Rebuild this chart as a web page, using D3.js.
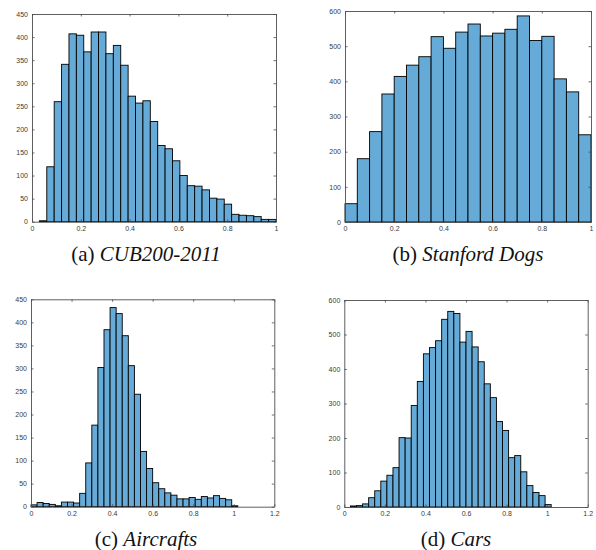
<!DOCTYPE html>
<html>
<head>
<meta charset="utf-8">
<script src="https://cdn.jsdelivr.net/npm/d3@7"></script>
<style>
  body { margin: 0; background: #fff; }
  svg { display: block; }
  .tick text { font-family: "Liberation Sans", Arial, sans-serif; font-size: 7px; fill: #3a3a3a; }
  .caption { font-family: "Liberation Serif", "Times New Roman", serif; font-size: 21px; fill: #111; }
</style>
</head>
<body>
<div id="chart"></div>
<script>
// histogram counts, one value per bin, bins start at 0
var cubBinWidth = 1 / 33
var cubCounts = [0, 2, 119, 260, 341, 407, 404, 368, 411, 411, 364, 382, 339, 272, 257, 262,
  217, 165, 158, 132, 100, 78, 77, 69, 51, 49, 38, 16, 14, 13, 11, 5, 5]

var dogsBinWidth = 0.05
var dogsCounts = [52, 180, 257, 364, 414, 446, 470, 527, 494, 540, 563, 529, 537, 548, 586,
  516, 528, 407, 370, 248]

var aircraftBinWidth = 0.03
var aircraftCounts = [4, 9, 7, 5, 2, 10, 10, 8, 29, 95, 177, 302, 384, 432, 419, 371, 306, 244,
  120, 83, 52, 39, 30, 25, 17, 17, 20, 16, 22, 19, 24, 18, 15, 2]

var carsBinWidth = 0.03
var carsCounts = [0, 3, 4, 9, 27, 47, 75, 92, 114, 201, 200, 294, 364, 444, 462, 482, 544, 567,
  561, 478, 509, 464, 421, 357, 317, 248, 222, 143, 149, 102, 62, 42, 33, 7]

var xTicks01 = [0, 0.2, 0.4, 0.6, 0.8, 1]
var xTicks12 = [0, 0.2, 0.4, 0.6, 0.8, 1, 1.2]
var yTicks450 = d3.range(0, 451, 50)
var yTicks600 = d3.range(0, 601, 100)

var captions = [
  { tag: "(a) ", name: "CUB200-2011" },
  { tag: "(b) ", name: "Stanford Dogs" },
  { tag: "(c) ", name: "Aircrafts" },
  { tag: "(d) ", name: "Cars" }
]

var totalWidth = 596
var totalHeight = 550

var svg = d3.select('#chart').append('svg')
  .attr('width', totalWidth)
  .attr('height', totalHeight)

// panel frames (pixel boxes of each axes)
var panels = [
  { counts: cubCounts, bw: cubBinWidth, xMax: 1, yMax: 450, xTicks: xTicks01, yTicks: yTicks450,
    box: [32, 14, 276, 221.7], cap: captions[0], capX: 146, capY: 261 },
  { counts: dogsCounts, bw: dogsBinWidth, xMax: 1, yMax: 600, xTicks: xTicks01, yTicks: yTicks600,
    box: [345, 11, 591, 222], cap: captions[1], capX: 468, capY: 261 },
  { counts: aircraftCounts, bw: aircraftBinWidth, xMax: 1.2, yMax: 450, xTicks: xTicks12, yTicks: yTicks450,
    box: [31, 299.3, 274.3, 506.7], cap: captions[2], capX: 146, capY: 546 },
  { counts: carsCounts, bw: carsBinWidth, xMax: 1.2, yMax: 600, xTicks: xTicks12, yTicks: yTicks600,
    box: [344.3, 300, 587.7, 507], cap: captions[3], capX: 456, capY: 546 }
]

panels.forEach(drawPanel)

function drawPanel(p) {
  var x0 = p.box[0], y0 = p.box[1], x1 = p.box[2], y1 = p.box[3]
  var w = x1 - x0, h = y1 - y0

  var g = svg.append('g').attr('transform', 'translate(' + x0 + ',' + y0 + ')')

  var xScale = d3.scaleLinear().domain([0, p.xMax]).range([0, w])
  var yScale = d3.scaleLinear().domain([0, p.yMax]).range([h, 0])

  var bins = p.counts.map(function(c, i) {
    return { x0: i * p.bw, x1: Math.min((i + 1) * p.bw, p.xMax), count: c }
  })

  g.selectAll('rect.bar').data(bins).enter().append('rect')
    .attr('class', 'bar')
    .attr('x', function(d) { return xScale(d.x0) })
    .attr('width', function(d) { return xScale(d.x1) - xScale(d.x0) })
    .attr('y', function(d) { return yScale(d.count) })
    .attr('height', function(d) { return h - yScale(d.count) })
    .attr('fill', '#66aad7')
    .attr('stroke', '#000')
    .attr('stroke-width', 0.9)

  // box axes, ticks inward on all four sides
  var tickLen = 2.5
  var bottom = d3.axisBottom(xScale).tickValues(p.xTicks).tickSizeInner(-tickLen).tickSizeOuter(0)
    .tickPadding(4).tickFormat(d3.format('~g'))
  var top = d3.axisTop(xScale).tickValues(p.xTicks).tickSizeInner(-tickLen).tickSizeOuter(0)
    .tickFormat('')
  var left = d3.axisLeft(yScale).tickValues(p.yTicks).tickSizeInner(-tickLen).tickSizeOuter(0)
    .tickPadding(4)
  var right = d3.axisRight(yScale).tickValues(p.yTicks).tickSizeInner(-tickLen).tickSizeOuter(0)
    .tickFormat('')

  var axes = [
    g.append('g').attr('transform', 'translate(0,' + h + ')').call(bottom),
    g.append('g').call(top),
    g.append('g').call(left),
    g.append('g').attr('transform', 'translate(' + w + ',0)').call(right)
  ]
  axes.forEach(function(a) {
    a.selectAll('.domain').attr('stroke', '#4d4d4d').attr('stroke-width', 0.9)
    a.selectAll('.tick line').attr('stroke', '#4d4d4d').attr('stroke-width', 0.8)
  })

  var cap = svg.append('text')
    .attr('class', 'caption')
    .attr('x', p.capX)
    .attr('y', p.capY)
    .attr('text-anchor', 'middle')
  cap.append('tspan').text(p.cap.tag)
  cap.append('tspan').attr('font-style', 'italic').text(p.cap.name)
}
</script>
</body>
</html>
